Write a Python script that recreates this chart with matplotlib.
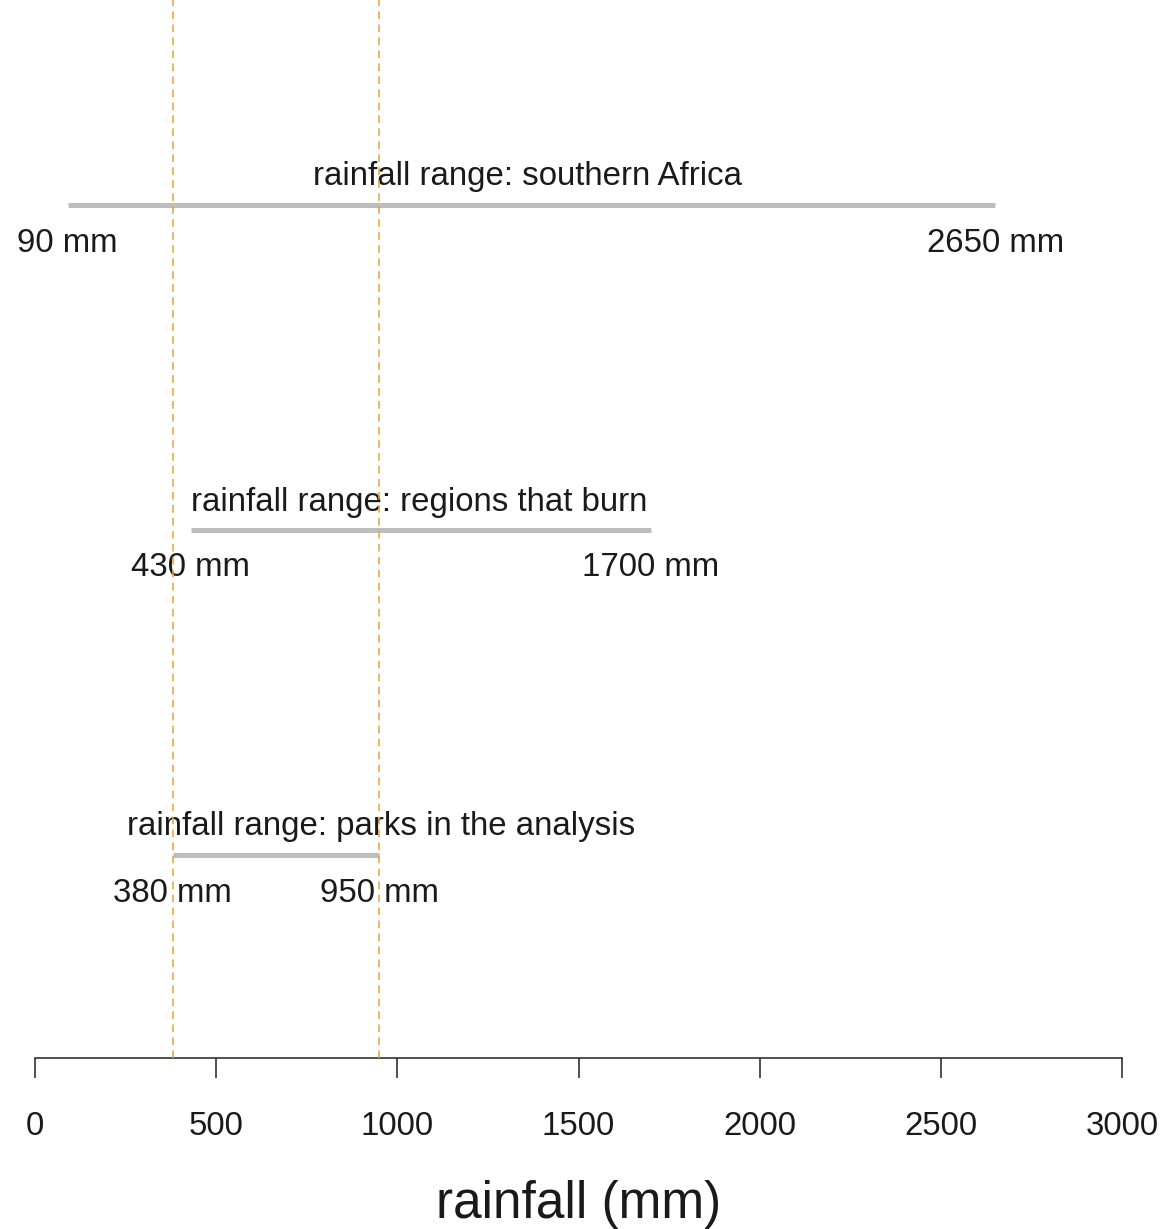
import matplotlib
matplotlib.use("Agg")
import matplotlib.pyplot as plt

# data
range_names = ["rainfall range: southern Africa",
               "rainfall range: regions that burn",
               "rainfall range: parks in the analysis"]
range_low = [90, 430, 380]
range_high = [2650, 1700, 950]
park_bounds = [380, 950]
xticks = [0, 500, 1000, 1500, 2000, 2500, 3000]

# layout (pixel rows from top, title centres in data units)
rows_px = [205, 530, 855]
title_x = [1360, 1060, 955]

W, H = 1166, 1229
fig = plt.figure(figsize=(W / 100, H / 100), dpi=100)
plt.rcParams['font.family'] = ['Liberation Sans', 'DejaVu Sans']
ax = fig.add_axes([35 / W, (H - 1058) / H, 1087 / W, 1058 / H])
ax.set_xlim(0, 3000)
ax.set_ylim(1058, 0)

txtc = '#1a1a1a'
fs = 23.8
for name, lo, hi, y, tx in zip(range_names, range_low, range_high, rows_px, title_x):
    ax.plot([lo, hi], [y, y], color='#bdbdbd', lw=3.6, solid_capstyle='butt', zorder=2)
    ax.text(tx, y - 28, name, ha='center', va='center', fontsize=fs, color=txtc)
    ax.text(lo, y + 38, f"{lo} mm", ha='center', va='center', fontsize=fs, color=txtc)
    ax.text(hi, y + 38, f"{hi} mm", ha='center', va='center', fontsize=fs, color=txtc)

for b in park_bounds:
    ax.axvline(b, color='#eaa23a', lw=1.1, ls=(0, (5, 3.5)), zorder=3)

for s in ['top', 'right', 'left']:
    ax.spines[s].set_visible(False)
ax.spines['bottom'].set_linewidth(1.1)
ax.spines['bottom'].set_color('#222222')
ax.spines['bottom'].set_bounds(0, 3000)
ax.set_yticks([])
ax.set_xticks(xticks)
ax.set_xticklabels([str(t) for t in xticks])
ax.tick_params(axis='x', length=14.4, width=1.1, color='#222222', pad=24,
               labelsize=fs, labelcolor=txtc)
ax.set_xlabel("rainfall (mm)", fontsize=37, color=txtc, labelpad=27)
ax.patch.set_alpha(0)

fig.savefig("out.png", dpi=100)
